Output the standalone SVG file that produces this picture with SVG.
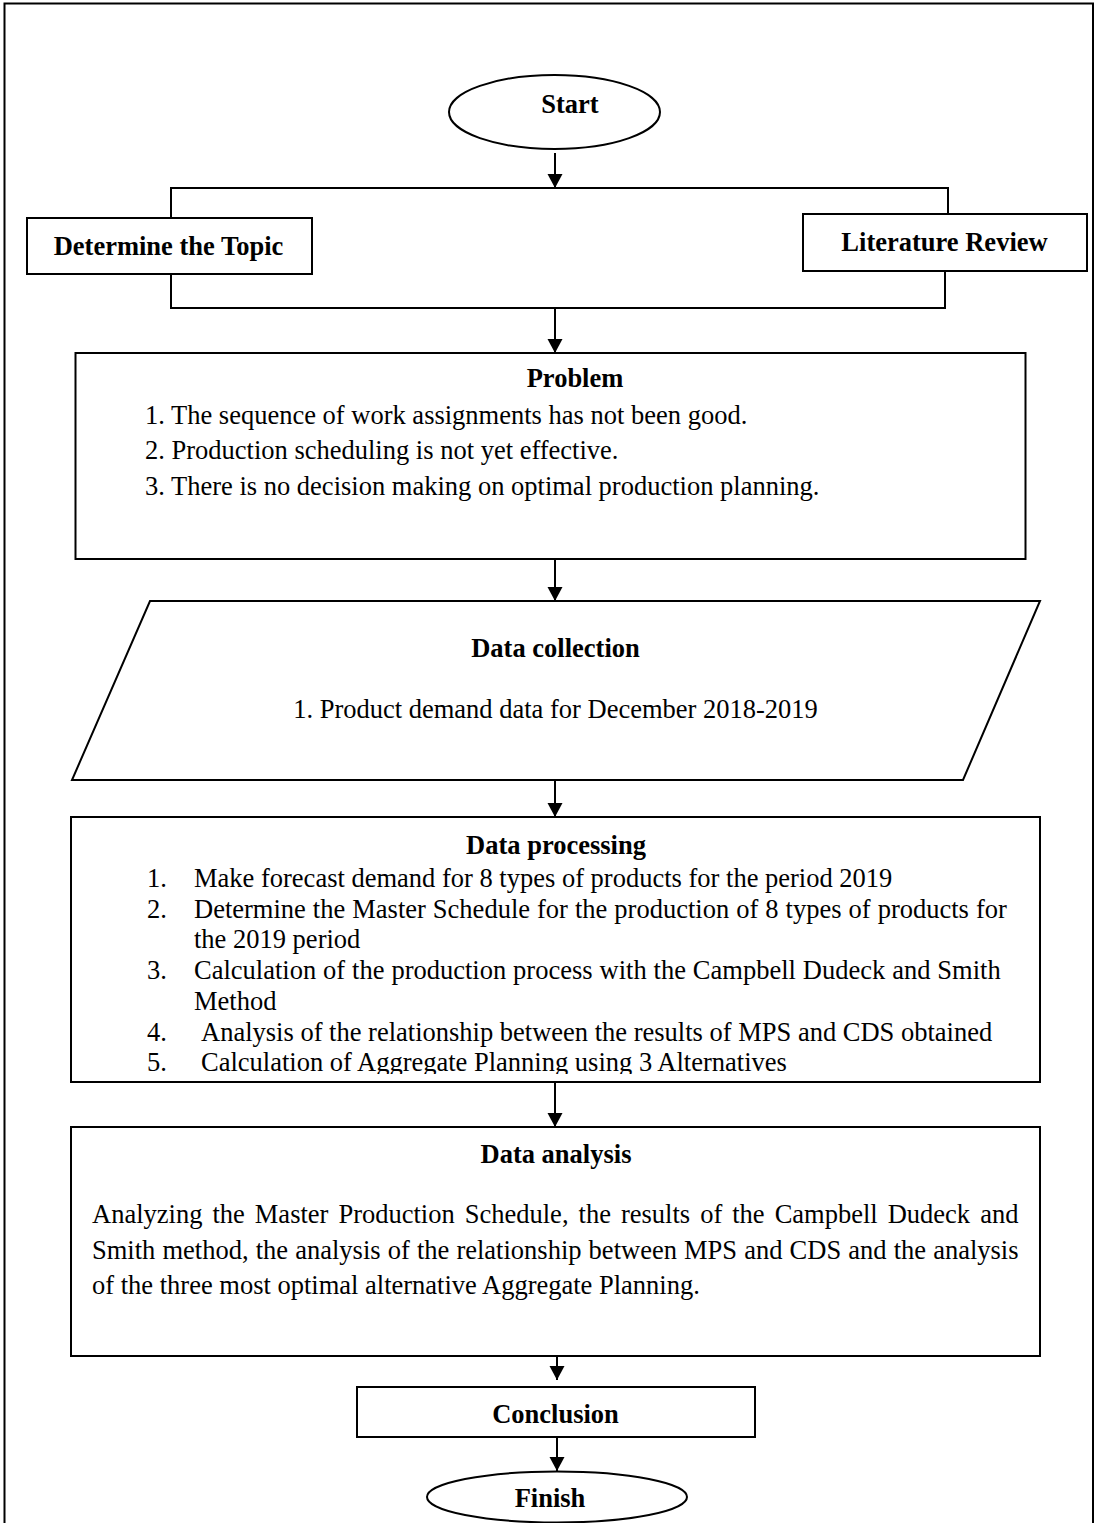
<svg xmlns="http://www.w3.org/2000/svg" width="1096" height="1523" viewBox="0 0 1096 1523">
<style>
.shape{fill:#fff;stroke:#000;stroke-width:2}
.ln{fill:none;stroke:#000;stroke-width:2}
.h{font-family:"Liberation Serif","Times New Roman",serif;font-weight:bold;font-size:26.5px;fill:#000;text-anchor:middle}
.b{font-family:"Liberation Serif","Times New Roman",serif;font-size:26.5px;fill:#000}
</style>
<defs>
<marker id="arr" markerUnits="userSpaceOnUse" markerWidth="16" markerHeight="16" refX="14" refY="7.5" orient="auto">
<path d="M0,0 L14,7.5 L0,15 Z" fill="#000"/>
</marker>
<clipPath id="clip5"><rect x="60" y="1040" width="1000" height="34"/></clipPath>
</defs>
<rect x="4.5" y="3.5" width="1088.5" height="1540" fill="#fff" stroke="#000" stroke-width="2"/>

<g id="connectors">
<line class="ln" x1="555" y1="153" x2="555" y2="188" marker-end="url(#arr)"/>
<polyline class="ln" points="171,218 171,188 948,188 948,214"/>
<polyline class="ln" points="171,274 171,308 945,308 945,271"/>
<line class="ln" x1="555" y1="308" x2="555" y2="353" marker-end="url(#arr)"/>
<line class="ln" x1="555" y1="559" x2="555" y2="601" marker-end="url(#arr)"/>
<line class="ln" x1="555" y1="780" x2="555" y2="817" marker-end="url(#arr)"/>
<line class="ln" x1="555" y1="1082" x2="555" y2="1127" marker-end="url(#arr)"/>
<line class="ln" x1="557" y1="1356" x2="557" y2="1380" marker-end="url(#arr)"/>
<line class="ln" x1="557" y1="1437" x2="557" y2="1471" marker-end="url(#arr)"/>
</g>

<g id="start">
<ellipse class="shape" cx="554.5" cy="112" rx="105.5" ry="37"/>
<text class="h" x="570" y="113">Start</text>
</g>

<g id="topic">
<rect class="shape" x="27" y="218" width="285" height="56"/>
<text class="h" x="168.5" y="255">Determine the Topic</text>
</g>

<g id="literature">
<rect class="shape" x="803" y="214" width="284" height="57"/>
<text class="h" x="944.5" y="251">Literature Review</text>
</g>

<g id="problem">
<rect class="shape" x="75.5" y="353" width="950" height="206"/>
<text class="h" x="575" y="387">Problem</text>
<text class="b" x="145" y="424">1. The sequence of work assignments has not been good.</text>
<text class="b" x="145" y="459">2. Production scheduling is not yet effective.</text>
<text class="b" x="145" y="495">3. There is no decision making on optimal production planning.</text>
</g>

<g id="collection">
<polygon class="shape" points="150,601 1040,601 963,780 72,780"/>
<text class="h" x="555.5" y="657">Data collection</text>
<text class="b" x="555.5" y="718" text-anchor="middle">1. Product demand data for December 2018-2019</text>
</g>

<g id="processing">
<rect class="shape" x="71" y="817" width="969" height="265"/>
<text class="h" x="556" y="854">Data processing</text>
<text class="b" x="147" y="887">1.</text>
<text class="b" x="194" y="887">Make forecast demand for 8 types of products for the period 2019</text>
<text class="b" x="147" y="918">2.</text>
<text class="b" x="194" y="918" word-spacing="0.4">Determine the Master Schedule for the production of 8 types of products for</text>
<text class="b" x="194" y="948">the 2019 period</text>
<text class="b" x="147" y="979">3.</text>
<text class="b" x="194" y="979" word-spacing="0.3">Calculation of the production process with the Campbell Dudeck and Smith</text>
<text class="b" x="194" y="1010">Method</text>
<text class="b" x="147" y="1041">4.</text>
<text class="b" x="201" y="1041">Analysis of the relationship between the results of MPS and CDS obtained</text>
<g clip-path="url(#clip5)">
<text class="b" x="147" y="1071">5.</text>
<text class="b" x="201" y="1071">Calculation of Aggregate Planning using 3 Alternatives</text>
</g>
</g>

<g id="analysis">
<rect class="shape" x="71" y="1127" width="969" height="229"/>
<text class="h" x="556" y="1163">Data analysis</text>
<text class="b" x="92" y="1223" word-spacing="3.4">Analyzing the Master Production Schedule, the results of the Campbell Dudeck and</text>
<text class="b" x="92" y="1259" word-spacing="0.5">Smith method, the analysis of the relationship between MPS and CDS and the analysis</text>
<text class="b" x="92" y="1294">of the three most optimal alternative Aggregate Planning.</text>
</g>

<g id="conclusion">
<rect class="shape" x="357" y="1387" width="398" height="50"/>
<text class="h" x="555.5" y="1423">Conclusion</text>
</g>

<g id="finish">
<ellipse class="shape" cx="557" cy="1497" rx="130" ry="25.5"/>
<text class="h" x="550" y="1507">Finish</text>
</g>
</svg>
